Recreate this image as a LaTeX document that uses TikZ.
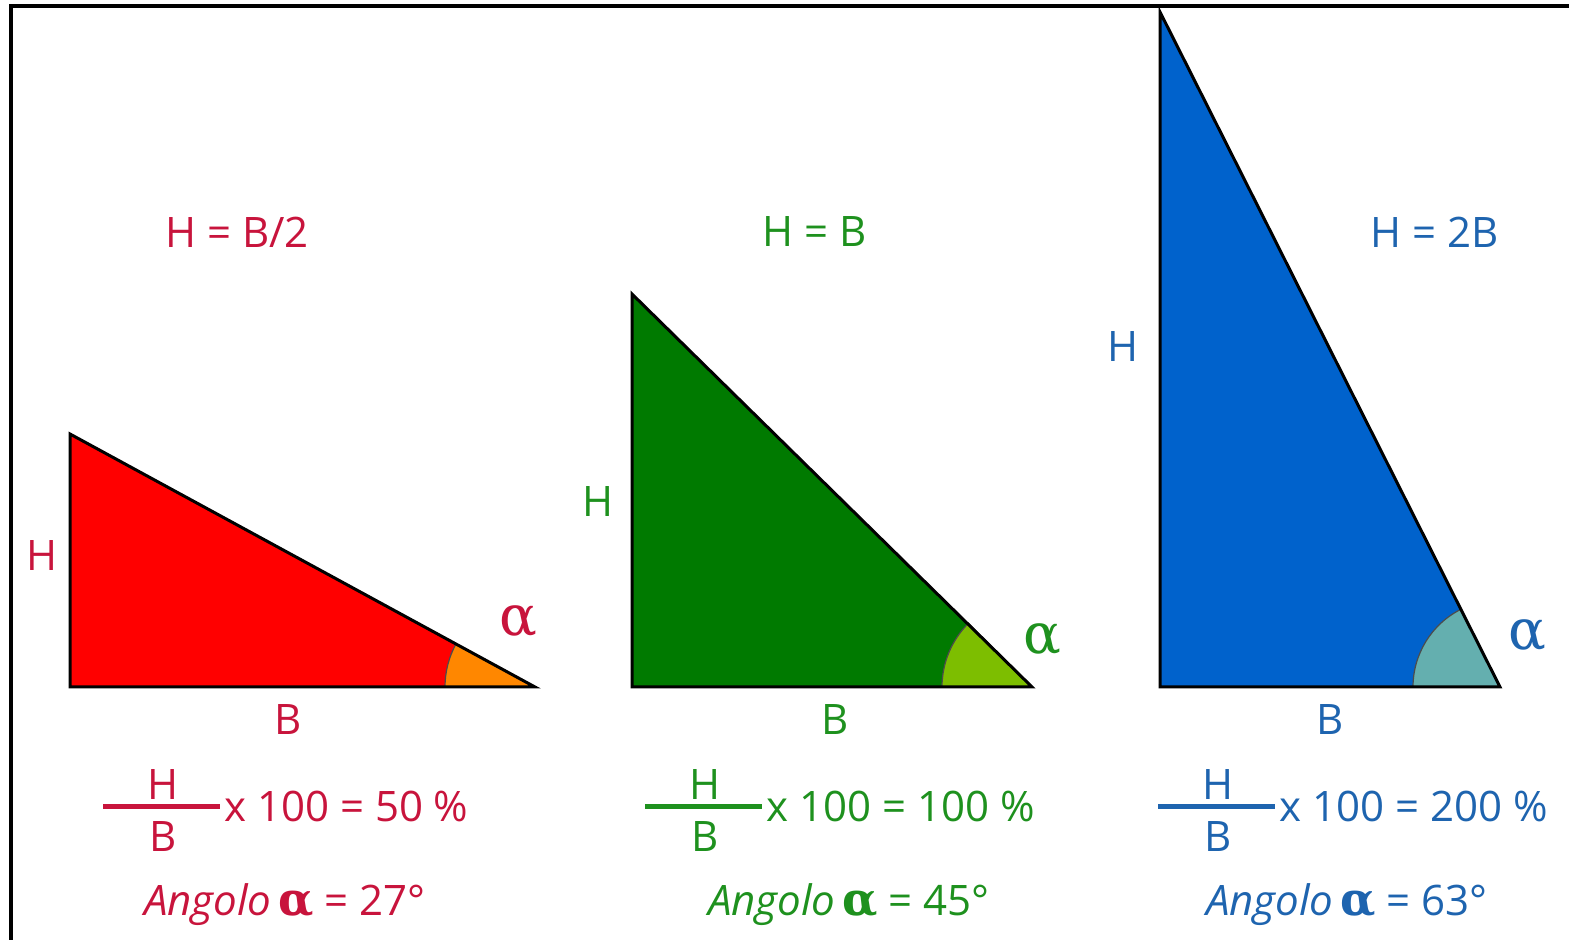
\documentclass[tikz,border=0pt]{standalone}
\usepackage{fontspec}
\setmainfont{Open Sans}
\newfontfamily\alphafont{DejaVu Serif}
\definecolor{redfill}{RGB}{255,0,0}
\definecolor{orangefill}{RGB}{255,135,0}
\definecolor{greenfill}{RGB}{0,122,0}
\definecolor{lgreenfill}{RGB}{125,190,0}
\definecolor{bluefill}{RGB}{0,98,204}
\definecolor{tealfill}{RGB}{100,175,175}
\definecolor{redtxt}{RGB}{200,20,60}
\definecolor{greentxt}{RGB}{30,145,30}
\definecolor{bluetxt}{RGB}{30,100,175}
\newcommand{\myalpha}{{\alphafont\bfseries\fontsize{46}{46}\selectfont α}}
\begin{document}
\begin{tikzpicture}[x=1pt,y=1pt,
  tri/.style={draw=black,line width=3pt,line join=miter},
  wedge/.style={draw=black!70,line width=1.2pt},
  lbl/.style={inner sep=0pt,font=\fontsize{42}{50}\selectfont},
  alph/.style={inner sep=0pt,font=\alphafont\fontsize{56}{56}\selectfont},
  fracline/.style={line width=5pt}]
\useasboundingbox (0,0) rectangle (1569,940);
\fill[white] (0,0) rectangle (1569,940);
% frame
\coordinate (f1) at (1569,934);
\coordinate (f2) at (11,934);
\coordinate (f3) at (11,0);
\draw[line width=4pt] (f1) -- (f2) -- (f3);

% ---------- red triangle ----------
\coordinate (rt) at (70,506);
\coordinate (rb) at (70,253);
\coordinate (rr) at (535,253);
\fill[redfill] (rt) -- (rb) -- (rr) -- cycle;
\filldraw[fill=orangefill,wedge] (rr) -- ++(180:90) arc[start angle=180,end angle=151.45,radius=90] -- cycle;
\draw[tri] (rt) -- (rb) -- (rr) -- cycle;

% ---------- green triangle ----------
\coordinate (gt) at (632,646);
\coordinate (gb) at (632,253);
\coordinate (gr) at (1032,253);
\fill[greenfill] (gt) -- (gb) -- (gr) -- cycle;
\filldraw[fill=lgreenfill,wedge] (gr) -- ++(180:90) arc[start angle=180,end angle=135,radius=90] -- cycle;
\draw[tri] (gt) -- (gb) -- (gr) -- cycle;

% ---------- blue triangle ----------
\coordinate (bt) at (1160,928);
\coordinate (bb) at (1160,253);
\coordinate (br) at (1500,253);
\fill[bluefill] (bt) -- (bb) -- (br) -- cycle;
\filldraw[fill=tealfill,wedge] (br) -- ++(180:87) arc[start angle=180,end angle=116.74,radius=87] -- cycle;
\draw[tri] (bt) -- (bb) -- (br) -- cycle;

% ---------- red labels ----------
\begin{scope}[redtxt]
\node[lbl] (rtitle) at (237,708) {H = B/2};
\node[lbl] (rH) at (42,384) {H};
\node[lbl] (rB) at (288,220) {B};
\node[alph] (ralpha) at (518,318) {α};
\coordinate (rf1) at (103,133);
\coordinate (rf2) at (220,133);
\draw[fracline] (rf1) -- (rf2);
\node[lbl] (rfH) at (163,155) {H};
\node[lbl] (rfB) at (163,103) {B};
\node[lbl,anchor=west] (rexpr) at (224,134) {x 100 = 50 \%};
\node[lbl] (rang) at (285,35) {\itshape Angolo\upshape\,\myalpha\ = 27°};
\end{scope}

% ---------- green labels ----------
\begin{scope}[greentxt]
\node[lbl] (gtitle) at (815,708) {H = B};
\node[lbl] (gH) at (598,438) {H};
\node[lbl] (gB) at (835,220) {B};
\node[alph] (galpha) at (1042,300) {α};
\coordinate (gf1) at (645,133);
\coordinate (gf2) at (762,133);
\draw[fracline] (gf1) -- (gf2);
\node[lbl] (gfH) at (705,155) {H};
\node[lbl] (gfB) at (705,103) {B};
\node[lbl,anchor=west] (gexpr) at (766,134) {x 100 = 100 \%};
\node[lbl] (gang) at (849,35) {\itshape Angolo\upshape\,\myalpha\ = 45°};
\end{scope}

% ---------- blue labels ----------
\begin{scope}[bluetxt]
\node[lbl] (btitle) at (1435,708) {H = 2B};
\node[lbl] (bH) at (1123,593) {H};
\node[lbl] (bB) at (1330,220) {B};
\node[alph] (balpha) at (1527,304) {α};
\coordinate (bf1) at (1158,133);
\coordinate (bf2) at (1275,133);
\draw[fracline] (bf1) -- (bf2);
\node[lbl] (bfH) at (1218,155) {H};
\node[lbl] (bfB) at (1218,103) {B};
\node[lbl,anchor=west] (bexpr) at (1279,134) {x 100 = 200 \%};
\node[lbl] (bang) at (1347,35) {\itshape Angolo\upshape\,\myalpha\ = 63°};
\end{scope}
\end{tikzpicture}
\end{document}
